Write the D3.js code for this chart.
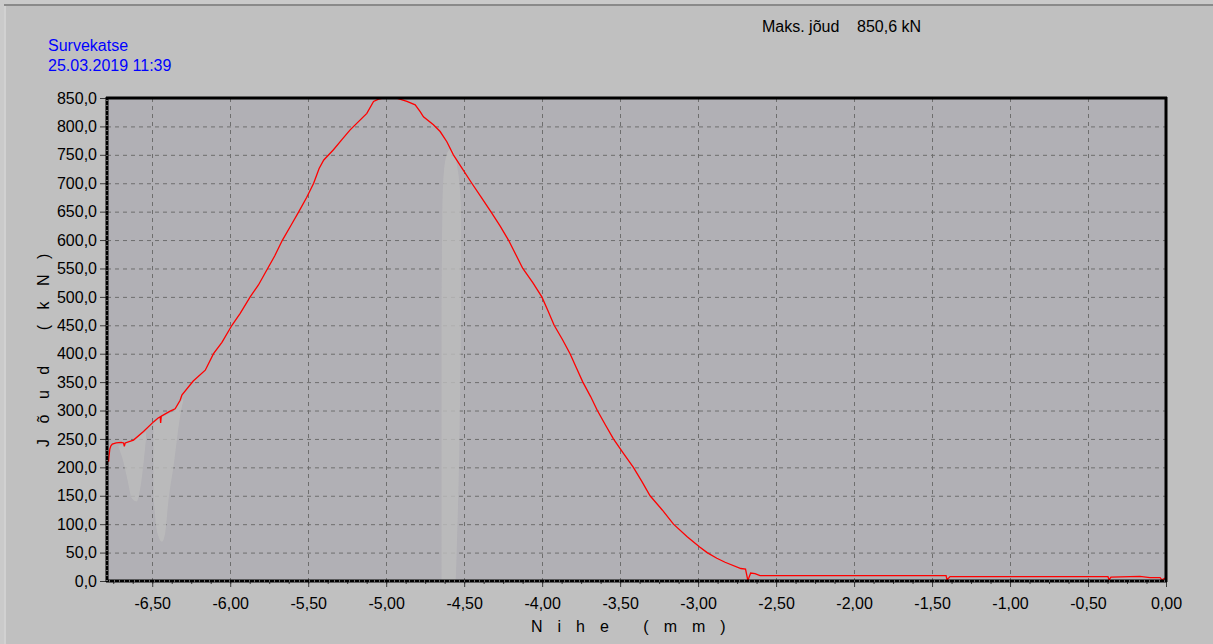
<!DOCTYPE html>
<html>
<head>
<meta charset="utf-8">
<script src="https://cdn.jsdelivr.net/npm/d3@7"></script>
<style>
  body { margin: 0; background: #c0c0c0; overflow: hidden; }
  text { font-family: "Liberation Sans", Arial, sans-serif; }
</style>
</head>
<body>
<div class="chart"></div>
<script>
// displacement (mm) and force (kN)
var dispX = [-6.780, -6.778, -6.772, -6.765, -6.756, -6.731, -6.699, -6.684, -6.679, -6.673,
  -6.620, -6.556, -6.492, -6.462, -6.449, -6.446, -6.442, -6.385, -6.353, -6.321,
  -6.310, -6.237, -6.160, -6.107, -6.053, -5.989, -5.936, -5.872, -5.819, -5.760,
  -5.715, -5.665, -5.610, -5.560, -5.510, -5.465, -5.430, -5.400, -5.338, -5.280,
  -5.231, -5.124, -5.081, -5.049, -5.006, -4.942, -4.923, -4.867, -4.814, -4.782,
  -4.761, -4.697, -4.654, -4.611, -4.569, -4.510, -4.451, -4.390, -4.329, -4.270,
  -4.216, -4.170, -4.124, -4.060, -4.002, -3.962, -3.923, -3.870, -3.821, -3.780,
  -3.739, -3.690, -3.646, -3.595, -3.543, -3.480, -3.415, -3.360, -3.308, -3.230,
  -3.158, -3.070, -2.990, -2.942, -2.880, -2.827, -2.726, -2.696, -2.681, -2.663,
  -2.635, -2.603, -1.410, -1.404, -1.385, -0.372, -0.365, -0.353, -0.167, -0.103,
  -0.038, -0.026, -0.006];
var force = [210, 218, 232, 238, 241, 243, 244, 243, 237, 243,
  248, 263, 280, 287, 289, 278, 290, 299, 303, 318,
  327, 352, 371, 400, 420, 450, 471, 500, 521, 550,
  572, 600, 626, 650, 675, 700, 726, 741, 759, 778,
  794, 823, 844, 848, 850.6, 850.6, 849, 844, 838, 826,
  817, 803, 791, 773, 750, 725, 700, 675, 650, 625,
  600, 575, 550, 525, 500, 475, 450, 425, 400, 375,
  350, 325, 300, 275, 250, 225, 200, 175, 150, 125,
  100, 78, 60, 50, 40, 33, 22, 21, 1, 14,
  13, 9.3, 9.3, 2, 7.6, 7.6, 2, 7, 8, 6,
  6, 2, 5];

// faint grey smudges behind the curve (x, upper, lower)
var smudgeAX = [-6.716, -6.69, -6.66, -6.63, -6.60, -6.57, -6.54];
var smudgeATop = [238, 240, 243, 247, 252, 258, 262];
var smudgeABot = [236, 215, 180, 145, 140, 175, 250];
var smudgeBX = [-6.492, -6.474, -6.462, -6.438, -6.417, -6.396, -6.364, -6.321, -6.301];
var smudgeBTop = [278, 282, 285, 288, 291, 294, 299, 314, 322];
var smudgeBBot = [150, 95, 80, 69, 84, 142, 201, 290, 318];
var smudgeCX = [-4.645, -4.640, -4.630, -4.610, -4.590, -4.570, -4.555, -4.545, -4.530, -4.520];
var smudgeCTop = [480, 640, 720, 752, 760, 757, 745, 730, 700, 660];
var smudgeCBot = [0, 0, 0, 0, 0, 0, 0, 80, 250, 450];

var yTicks = [0, 50, 100, 150, 200, 250, 300, 350, 400, 450, 500, 550, 600, 650, 700, 750, 800, 850];
var xTicks = [-6.5, -6, -5.5, -5, -4.5, -4, -3.5, -3, -2.5, -2, -1.5, -1, -0.5, 0];

var svgWidth = 1213;
var svgHeight = 644;
var margin = { top: 98, right: 47, bottom: 63, left: 107 };
var width = svgWidth - margin.left - margin.right;
var height = svgHeight - margin.top - margin.bottom;

var svg = d3.select(".chart")
  .append("svg")
  .attr("width", svgWidth)
  .attr("height", svgHeight);

// window frame
svg.append("rect").attr("width", svgWidth).attr("height", svgHeight).attr("fill", "#c0c0c0");
svg.append("rect").attr("width", svgWidth).attr("height", 4).attr("fill", "#cacaca");
svg.append("rect").attr("width", 4).attr("height", svgHeight).attr("fill", "#cacaca");
svg.append("line").attr("x1", 4).attr("x2", svgWidth).attr("y1", 5).attr("y2", 5)
  .attr("stroke", "#8a8a8a").attr("stroke-width", 2);
svg.append("line").attr("x1", 5).attr("x2", 5).attr("y1", 6).attr("y2", svgHeight)
  .attr("stroke", "#e2e2e2").attr("stroke-width", 1);

var chartGroup = svg.append("g")
  .attr("transform", `translate(${margin.left}, ${margin.top})`);

var x = d3.scaleLinear().domain([-6.79, 0]).range([0, width]);
var y = d3.scaleLinear().domain([0, 850]).range([height, 0]);

var comma = function (v, n) { return v.toFixed(n).replace(".", ","); };

chartGroup.append("rect")
  .attr("width", width)
  .attr("height", height)
  .attr("fill", "#b1b0b5");

// dashed grid
chartGroup.selectAll(".hgrid")
  .data(yTicks.slice(1, -1))
  .enter()
  .append("line")
  .attr("x1", 0).attr("x2", width)
  .attr("y1", d => y(d) + 0.5).attr("y2", d => y(d) + 0.5)
  .attr("stroke", "#6e6e6e")
  .attr("stroke-dasharray", "4,4");

chartGroup.selectAll(".vgrid")
  .data(xTicks.slice(0, -1))
  .enter()
  .append("line")
  .attr("x1", d => Math.round(x(d)) + 0.5).attr("x2", d => Math.round(x(d)) + 0.5)
  .attr("y1", 0).attr("y2", height)
  .attr("stroke", "#6e6e6e")
  .attr("stroke-dasharray", "4,4");

// smudges
function drawSmudge(xs, tops, bots) {
  var pts = xs.map((d, i) => ({ x: d, t: tops[i], b: bots[i] }));
  chartGroup.append("path")
    .datum(pts)
    .attr("d", d3.area()
      .x(d => x(d.x))
      .y0(d => y(d.b))
      .y1(d => y(d.t))
      .curve(d3.curveMonotoneX))
    .attr("fill", "#bdbdbd")
    .attr("opacity", 0.8);
}
drawSmudge(smudgeAX, smudgeATop, smudgeABot);
drawSmudge(smudgeBX, smudgeBTop, smudgeBBot);
drawSmudge(smudgeCX, smudgeCTop, smudgeCBot);

// force curve
var curveData = dispX.map((d, i) => ({ x: d, f: force[i] }));
chartGroup.append("path")
  .datum(curveData)
  .attr("d", d3.line().x(d => x(d.x)).y(d => y(d.f)))
  .attr("fill", "none")
  .attr("stroke", "#ff0000")
  .attr("stroke-width", 1.3);

// axes
var leftAxis = d3.axisLeft(y)
  .tickValues(yTicks)
  .tickSize(7)
  .tickPadding(3)
  .tickFormat(d => comma(d, 1));
var yAxis = chartGroup.append("g").call(leftAxis);

var bottomAxis = d3.axisBottom(x)
  .tickValues(xTicks)
  .tickSize(6)
  .tickPadding(11)
  .tickFormat(d => comma(d, 2));
var xAxis = chartGroup.append("g")
  .attr("transform", `translate(0, ${height})`)
  .call(bottomAxis);

var minorAxis = d3.axisBottom(x)
  .tickValues(d3.range(-6.75, 0.001, 0.125))
  .tickSize(3)
  .tickFormat("");
chartGroup.append("g")
  .attr("transform", `translate(0, ${height})`)
  .call(minorAxis);

chartGroup.selectAll(".domain").remove();
chartGroup.selectAll(".tick line").attr("stroke", "#3a3a3a");
chartGroup.selectAll(".tick text")
  .attr("fill", "#000")
  .style("font-size", "16px");

// plot frame
chartGroup.append("line").attr("x1", -1).attr("x2", width + 1).attr("y1", 0).attr("y2", 0)
  .attr("stroke", "#000").attr("stroke-width", 3);
chartGroup.append("line").attr("x1", width).attr("x2", width).attr("y1", -1).attr("y2", height + 1)
  .attr("stroke", "#000").attr("stroke-width", 3);
chartGroup.append("line").attr("x1", 0).attr("x2", 0).attr("y1", -1).attr("y2", height + 1)
  .attr("stroke", "#000").attr("stroke-width", 3);
chartGroup.append("line").attr("x1", -1).attr("x2", width + 1).attr("y1", height).attr("y2", height)
  .attr("stroke", "#000").attr("stroke-width", 3);
chartGroup.append("line").attr("x1", 0).attr("x2", 0).attr("y1", 2).attr("y2", height)
  .attr("stroke", "#d4d4d4").attr("stroke-width", 1).attr("stroke-dasharray", "1,4");
chartGroup.append("line").attr("x1", 2).attr("x2", width).attr("y1", height).attr("y2", height)
  .attr("stroke", "#d4d4d4").attr("stroke-width", 1).attr("stroke-dasharray", "1,4");

// axis titles
svg.append("text")
  .attr("transform", "translate(49, 447) rotate(-90)")
  .style("font-size", "16px")
  .style("letter-spacing", "15.5px")
  .text("Jõud (kN)");

svg.append("text")
  .attr("x", 531)
  .attr("y", 632)
  .style("font-size", "16px")
  .style("letter-spacing", "15px")
  .text("Nihe (mm)");

// header texts
svg.append("text").attr("x", 48).attr("y", 51)
  .attr("fill", "#0000ff").style("font-size", "16px").text("Survekatse");
svg.append("text").attr("x", 48).attr("y", 71)
  .attr("fill", "#0000ff").style("font-size", "16px").text("25.03.2019 11:39");
svg.append("text").attr("x", 762).attr("y", 32)
  .style("font-size", "16px").text("Maks. jõud");
svg.append("text").attr("x", 857).attr("y", 32)
  .style("font-size", "16px").text("850,6 kN");
</script>
</body>
</html>
